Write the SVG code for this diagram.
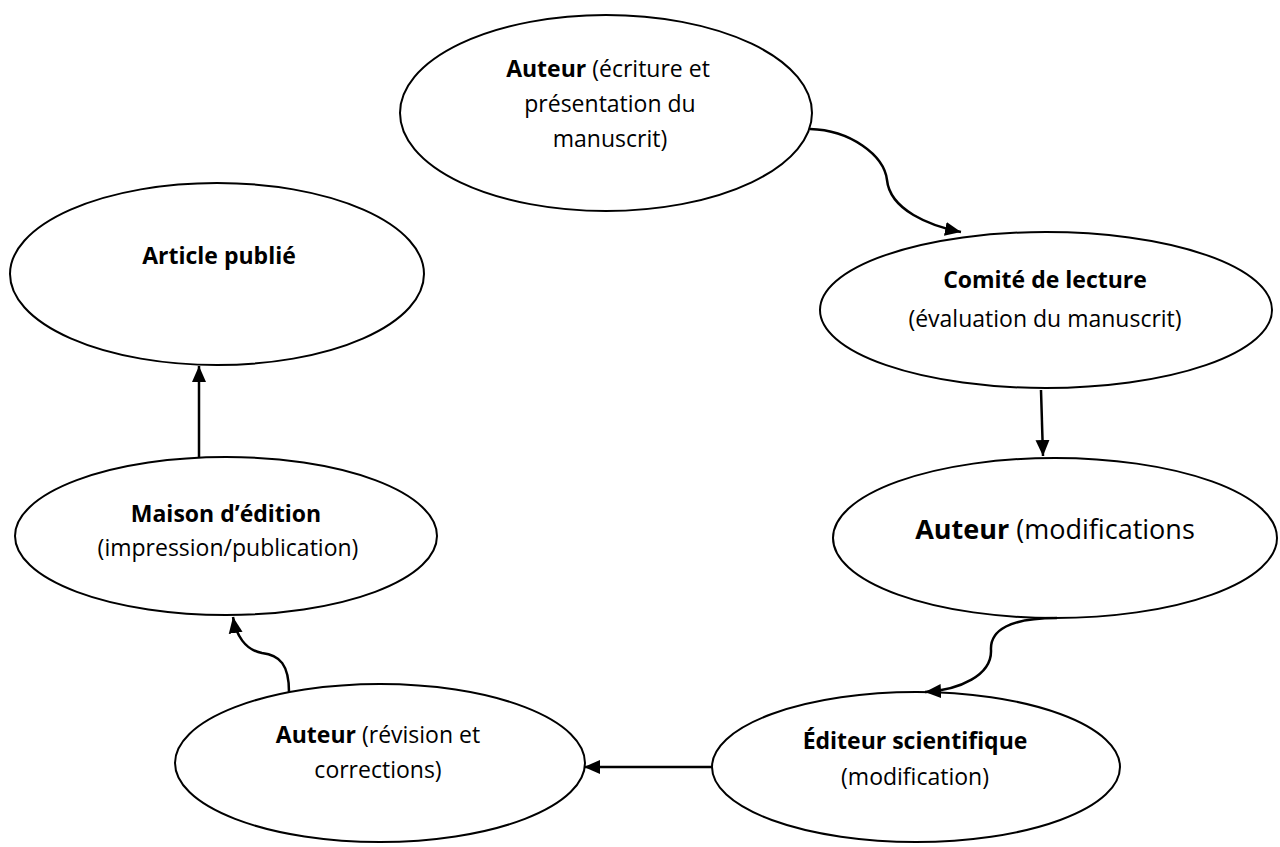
<svg xmlns="http://www.w3.org/2000/svg" width="1280" height="847" viewBox="0 0 1280 847">
  <style>
    .node { fill: #ffffff; stroke: #000000; stroke-width: 2; }
    .label { font-family: "Open Sans", "Liberation Sans", sans-serif; font-size: 23px; fill: #000000; text-anchor: middle; }
    .big { font-size: 27px; }
    .b { font-weight: bold; }
    .link { fill: none; stroke: #000000; stroke-width: 2.5; marker-end: url(#arrow); }
  </style>
  <defs>
    <marker id="arrow" markerUnits="userSpaceOnUse" markerWidth="18" markerHeight="16" refX="16" refY="8" orient="auto">
      <path d="M0,1 L16,8 L0,15 Z" fill="#000000"/>
    </marker>
  </defs>
  <rect width="1280" height="847" fill="#ffffff"/>

  <g id="auteur-ecriture">
    <ellipse class="node" cx="606" cy="113" rx="206" ry="98"/>
    <text class="label" x="608" y="77"><tspan class="b">Auteur</tspan> (écriture et</text>
    <text class="label" x="610" y="112">présentation du</text>
    <text class="label" x="610" y="147">manuscrit)</text>
  </g>

  <g id="comite-lecture">
    <ellipse class="node" cx="1046" cy="310" rx="226" ry="78"/>
    <text class="label b" x="1045" y="288">Comité de lecture</text>
    <text class="label" x="1045" y="327">(évaluation du manuscrit)</text>
  </g>

  <g id="auteur-modifications">
    <ellipse class="node" cx="1055" cy="538" rx="222" ry="80"/>
    <text class="label big" x="1055" y="539"><tspan class="b">Auteur</tspan> (modifications</text>
  </g>

  <g id="editeur-scientifique">
    <ellipse class="node" cx="916" cy="767" rx="204" ry="75"/>
    <text class="label b" x="915" y="749">Éditeur scientifique</text>
    <text class="label" x="915" y="785">(modification)</text>
  </g>

  <g id="auteur-revision">
    <ellipse class="node" cx="380" cy="763" rx="205" ry="79"/>
    <text class="label" x="378" y="743"><tspan class="b">Auteur</tspan> (révision et</text>
    <text class="label" x="378" y="778">corrections)</text>
  </g>

  <g id="maison-edition">
    <ellipse class="node" cx="226" cy="536" rx="211" ry="79"/>
    <text class="label b" x="226" y="522">Maison d’édition</text>
    <text class="label" x="228" y="556">(impression/publication)</text>
  </g>

  <g id="article-publie">
    <ellipse class="node" cx="217" cy="274" rx="207" ry="91"/>
    <text class="label b" x="219" y="264">Article publié</text>
  </g>

  <g id="connectors">
    <path class="link" d="M810,129 C850,130 884,155 887,180 C890,210 930,226 961,232"/>
    <path class="link" d="M1041,390 L1043,456"/>
    <path class="link" d="M1057,618 C1010,618 990,630 991,650 C992,675 960,690 925,692"/>
    <path class="link" d="M712,767 L584,767"/>
    <path class="link" d="M289,692 C289,665 280,655 262,653 C245,650 236,635 233,617"/>
    <path class="link" d="M199,457 L199,366"/>
  </g>
</svg>
